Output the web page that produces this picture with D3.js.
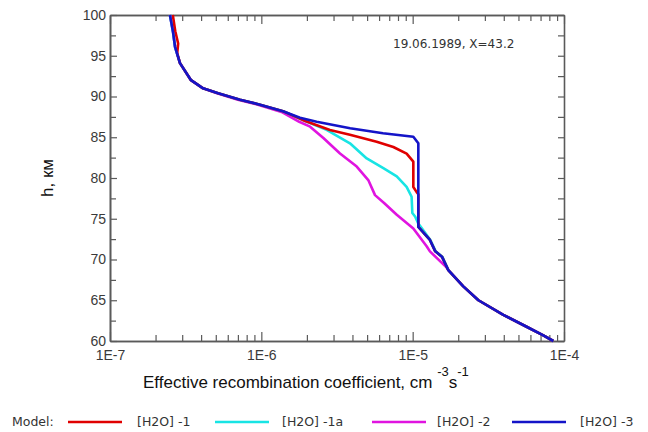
<!DOCTYPE html>
<html>
<head>
<meta charset="utf-8">
<script src="https://cdn.jsdelivr.net/npm/d3@7"></script>
<style>
  html, body { margin: 0; padding: 0; background: #fff; }
  svg { display: block; }
</style>
</head>
<body>
<svg id="chart" width="648" height="432"></svg>
<script>
// Heights (km) and effective recombination coefficient (cm^-3 s^-1) for each model
const heightsH2O1  = [100, 98, 96.5, 95.3, 94.1, 92.0, 91.0, 90.4, 89.6, 89.0, 88.2, 87.0, 85.9, 85.3, 84.45, 83.8, 83.0, 82.0, 78.9, 78.3, 78.0, 74.0, 72.4, 71.0, 70.35, 68.7, 66.7, 65.0, 63.2, 61.75, 60.7, 60];
const valuesH2O1   = [2.6e-7, 2.7e-7, 2.82e-7, 2.78e-7, 2.9e-7, 3.43e-7, 4.12e-7, 5.18e-7, 7.23e-7, 9.8e-7, 1.39e-6, 1.95e-6, 2.84e-6, 3.85e-6, 5.78e-6, 7.45e-6, 9.12e-6, 1.01e-5, 1.01e-5, 1.06e-5, 1.09e-5, 1.09e-5, 1.30e-5, 1.41e-5, 1.56e-5, 1.72e-5, 2.16e-5, 2.72e-5, 3.97e-5, 5.66e-5, 7.3e-5, 8.5e-5];

const heightsH2O1a = [100, 97.9, 96.1, 94.1, 92.0, 91.0, 90.4, 89.6, 89.0, 88.2, 87.0, 85.9, 84.26, 82.4, 81.2, 80.2, 78.9, 77.7, 75.7, 75.25, 74.4, 72.4, 71.0, 70.35, 68.7, 66.7, 65.0, 63.2, 61.75, 60.7, 60];
const valuesH2O1a  = [2.49e-7, 2.61e-7, 2.69e-7, 2.9e-7, 3.43e-7, 4.12e-7, 5.18e-7, 7.23e-7, 9.8e-7, 1.39e-6, 1.95e-6, 2.70e-6, 3.85e-6, 4.97e-6, 6.4e-6, 7.85e-6, 9.12e-6, 9.84e-6, 9.95e-6, 1.04e-5, 1.09e-5, 1.31e-5, 1.42e-5, 1.57e-5, 1.72e-5, 2.16e-5, 2.72e-5, 3.97e-5, 5.66e-5, 7.3e-5, 8.5e-5];

const heightsH2O2  = [100, 97.9, 96.1, 94.1, 92.0, 91.0, 90.4, 89.6, 89.0, 88.1, 86.9, 86.3, 84.9, 83.0, 81.4, 79.75, 77.9, 76.9, 75.5, 73.8, 71.6, 71.0, 69.1, 68.7, 66.7, 65.0, 63.2, 61.75, 60.7, 60];
const valuesH2O2   = [2.49e-7, 2.61e-7, 2.69e-7, 2.9e-7, 3.43e-7, 4.12e-7, 5.1e-7, 7.0e-7, 9.5e-7, 1.36e-6, 1.78e-6, 2.1e-6, 2.57e-6, 3.31e-6, 4.27e-6, 5.09e-6, 5.64e-6, 6.5e-6, 7.85e-6, 1.01e-5, 1.24e-5, 1.30e-5, 1.66e-5, 1.72e-5, 2.16e-5, 2.72e-5, 3.97e-5, 5.66e-5, 7.3e-5, 8.5e-5];

const heightsH2O3  = [100, 97.9, 96.1, 94.1, 92.0, 91.0, 90.4, 89.6, 89.0, 88.2, 87.4, 86.9, 86.1, 85.5, 85.07, 84.26, 74.0, 72.4, 71.0, 70.35, 68.7, 66.7, 65.0, 63.2, 61.75, 60.7, 60];
const valuesH2O3   = [2.49e-7, 2.61e-7, 2.69e-7, 2.9e-7, 3.43e-7, 4.12e-7, 5.18e-7, 7.23e-7, 9.8e-7, 1.39e-6, 1.80e-6, 2.32e-6, 3.86e-6, 6.37e-6, 1.01e-5, 1.09e-5, 1.09e-5, 1.30e-5, 1.41e-5, 1.56e-5, 1.72e-5, 2.16e-5, 2.72e-5, 3.97e-5, 5.66e-5, 7.3e-5, 8.5e-5];

const seriesNames  = ["[H2O] -1", "[H2O] -1a", "[H2O] -2", "[H2O] -3"];
const seriesColors = ["#e00000", "#18e4e4", "#e014e0", "#1414c8"];

const xDecades = [1e-7, 1e-6, 1e-5, 1e-4];
const xDecadeLabels = ["1E-7", "1E-6", "1E-5", "1E-4"];
const yTickLabels = [60, 65, 70, 75, 80, 85, 90, 95, 100];
const yMinorTicks = [62.5, 67.5, 72.5, 77.5, 82.5, 87.5, 92.5, 97.5];

const annotation = "19.06.1989, X=43.2";

// ---- layout ----
const plotLeft = 110, plotRight = 564, plotTop = 15, plotBottom = 341;
const svg = d3.select("#chart");

const x = d3.scaleLog().domain([1e-7, 1e-4]).range([plotLeft, plotRight]);
const y = d3.scaleLinear().domain([60, 100]).range([plotBottom, plotTop]);

// minor log ticks 2..9 within each decade
const xMinor = [];
xDecades.slice(0, 3).forEach(d => { for (let k = 2; k <= 9; k++) xMinor.push(d * k); });

const axisColor = "#5a5a5a";
const tickFont = "'Liberation Sans', Arial, sans-serif";

function styleAxis(g) {
  g.selectAll("path.domain").attr("stroke", axisColor).attr("stroke-width", 1.6);
  g.selectAll(".tick line").attr("stroke", axisColor).attr("stroke-width", 1.2);
  g.selectAll(".tick text").attr("fill", "#3a3a3a").style("font-family", tickFont).style("font-size", "14px");
}

// bottom axis
svg.append("g").attr("transform", `translate(0,${plotBottom})`)
  .call(d3.axisBottom(x).tickValues(xMinor).tickSizeInner(-6).tickSizeOuter(0).tickFormat(""))
  .call(styleAxis);
svg.append("g").attr("transform", `translate(0,${plotBottom})`)
  .call(d3.axisBottom(x).tickValues(xDecades).tickSizeInner(-9).tickSizeOuter(0).tickPadding(9)
    .tickFormat((d, i) => xDecadeLabels[i]))
  .call(styleAxis);

// top axis
svg.append("g").attr("transform", `translate(0,${plotTop})`)
  .call(d3.axisTop(x).tickValues(xMinor).tickSizeInner(-6).tickSizeOuter(0).tickFormat(""))
  .call(styleAxis);
svg.append("g").attr("transform", `translate(0,${plotTop})`)
  .call(d3.axisTop(x).tickValues(xDecades).tickSizeInner(-9).tickSizeOuter(0).tickFormat(""))
  .call(styleAxis);

// left axis
svg.append("g").attr("transform", `translate(${plotLeft},0)`)
  .call(d3.axisLeft(y).tickValues(yMinorTicks).tickSizeInner(-6).tickSizeOuter(0).tickFormat(""))
  .call(styleAxis);
svg.append("g").attr("transform", `translate(${plotLeft},0)`)
  .call(d3.axisLeft(y).tickValues(yTickLabels).tickSizeInner(-7).tickSizeOuter(0).tickPadding(4)
    .tickFormat(d3.format("d")))
  .call(styleAxis);

// right axis
svg.append("g").attr("transform", `translate(${plotRight},0)`)
  .call(d3.axisRight(y).tickValues(yTickLabels.concat(yMinorTicks)).tickSizeInner(-6).tickSizeOuter(0).tickFormat(""))
  .call(styleAxis);

// profiles
const profiles = [
  { h: heightsH2O1,  v: valuesH2O1 },
  { h: heightsH2O1a, v: valuesH2O1a },
  { h: heightsH2O2,  v: valuesH2O2 },
  { h: heightsH2O3,  v: valuesH2O3 }
];
const line = d3.line().x(d => x(d[1])).y(d => y(d[0]));
const drawOrder = [2, 1, 0, 3];
svg.append("g").selectAll("path")
  .data(drawOrder)
  .join("path")
  .attr("d", i => line(profiles[i].h.map((h, j) => [h, profiles[i].v[j]])))
  .attr("fill", "none")
  .attr("stroke", i => seriesColors[i])
  .attr("stroke-width", 2.6)
  .attr("stroke-linejoin", "round");

// annotation
svg.append("text")
  .attr("x", 393).attr("y", 48)
  .style("font-family", "'DejaVu Sans', Tahoma, sans-serif")
  .style("font-size", "12px")
  .attr("fill", "#333")
  .text(annotation);

// axis titles
svg.append("text")
  .attr("transform", "translate(53,178) rotate(-90)")
  .attr("text-anchor", "middle")
  .style("font-family", tickFont)
  .style("font-size", "17px")
  .attr("fill", "#111")
  .text("h, км");

const xt = svg.append("text")
  .attr("x", 143).attr("y", 388)
  .style("font-family", tickFont)
  .style("font-size", "17px")
  .attr("fill", "#111");
xt.append("tspan").text("Effective recombination coefficient, cm ");
xt.append("tspan").attr("dy", -12).style("font-size", "13px").text("-3");
xt.append("tspan").attr("dy", 12).text("s");
xt.append("tspan").attr("dy", -12).style("font-size", "13px").text("-1");

// legend
const legendFont = "'DejaVu Sans', Tahoma, sans-serif";
const legendY = 422;
svg.append("text")
  .attr("x", 12).attr("y", legendY + 4)
  .style("font-family", legendFont).style("font-size", "12.5px").attr("fill", "#333")
  .text("Model:");
const legendLineX = [68, 215, 372, 512];
const legendTextX = [137, 282, 437, 580];
seriesNames.forEach((name, i) => {
  svg.append("line")
    .attr("x1", legendLineX[i]).attr("x2", legendLineX[i] + 54)
    .attr("y1", legendY).attr("y2", legendY)
    .attr("stroke", seriesColors[i]).attr("stroke-width", 2.6);
  svg.append("text")
    .attr("x", legendTextX[i]).attr("y", legendY + 4)
    .style("font-family", legendFont).style("font-size", "12.5px").attr("fill", "#333")
    .text(name);
});
</script>
</body>
</html>
